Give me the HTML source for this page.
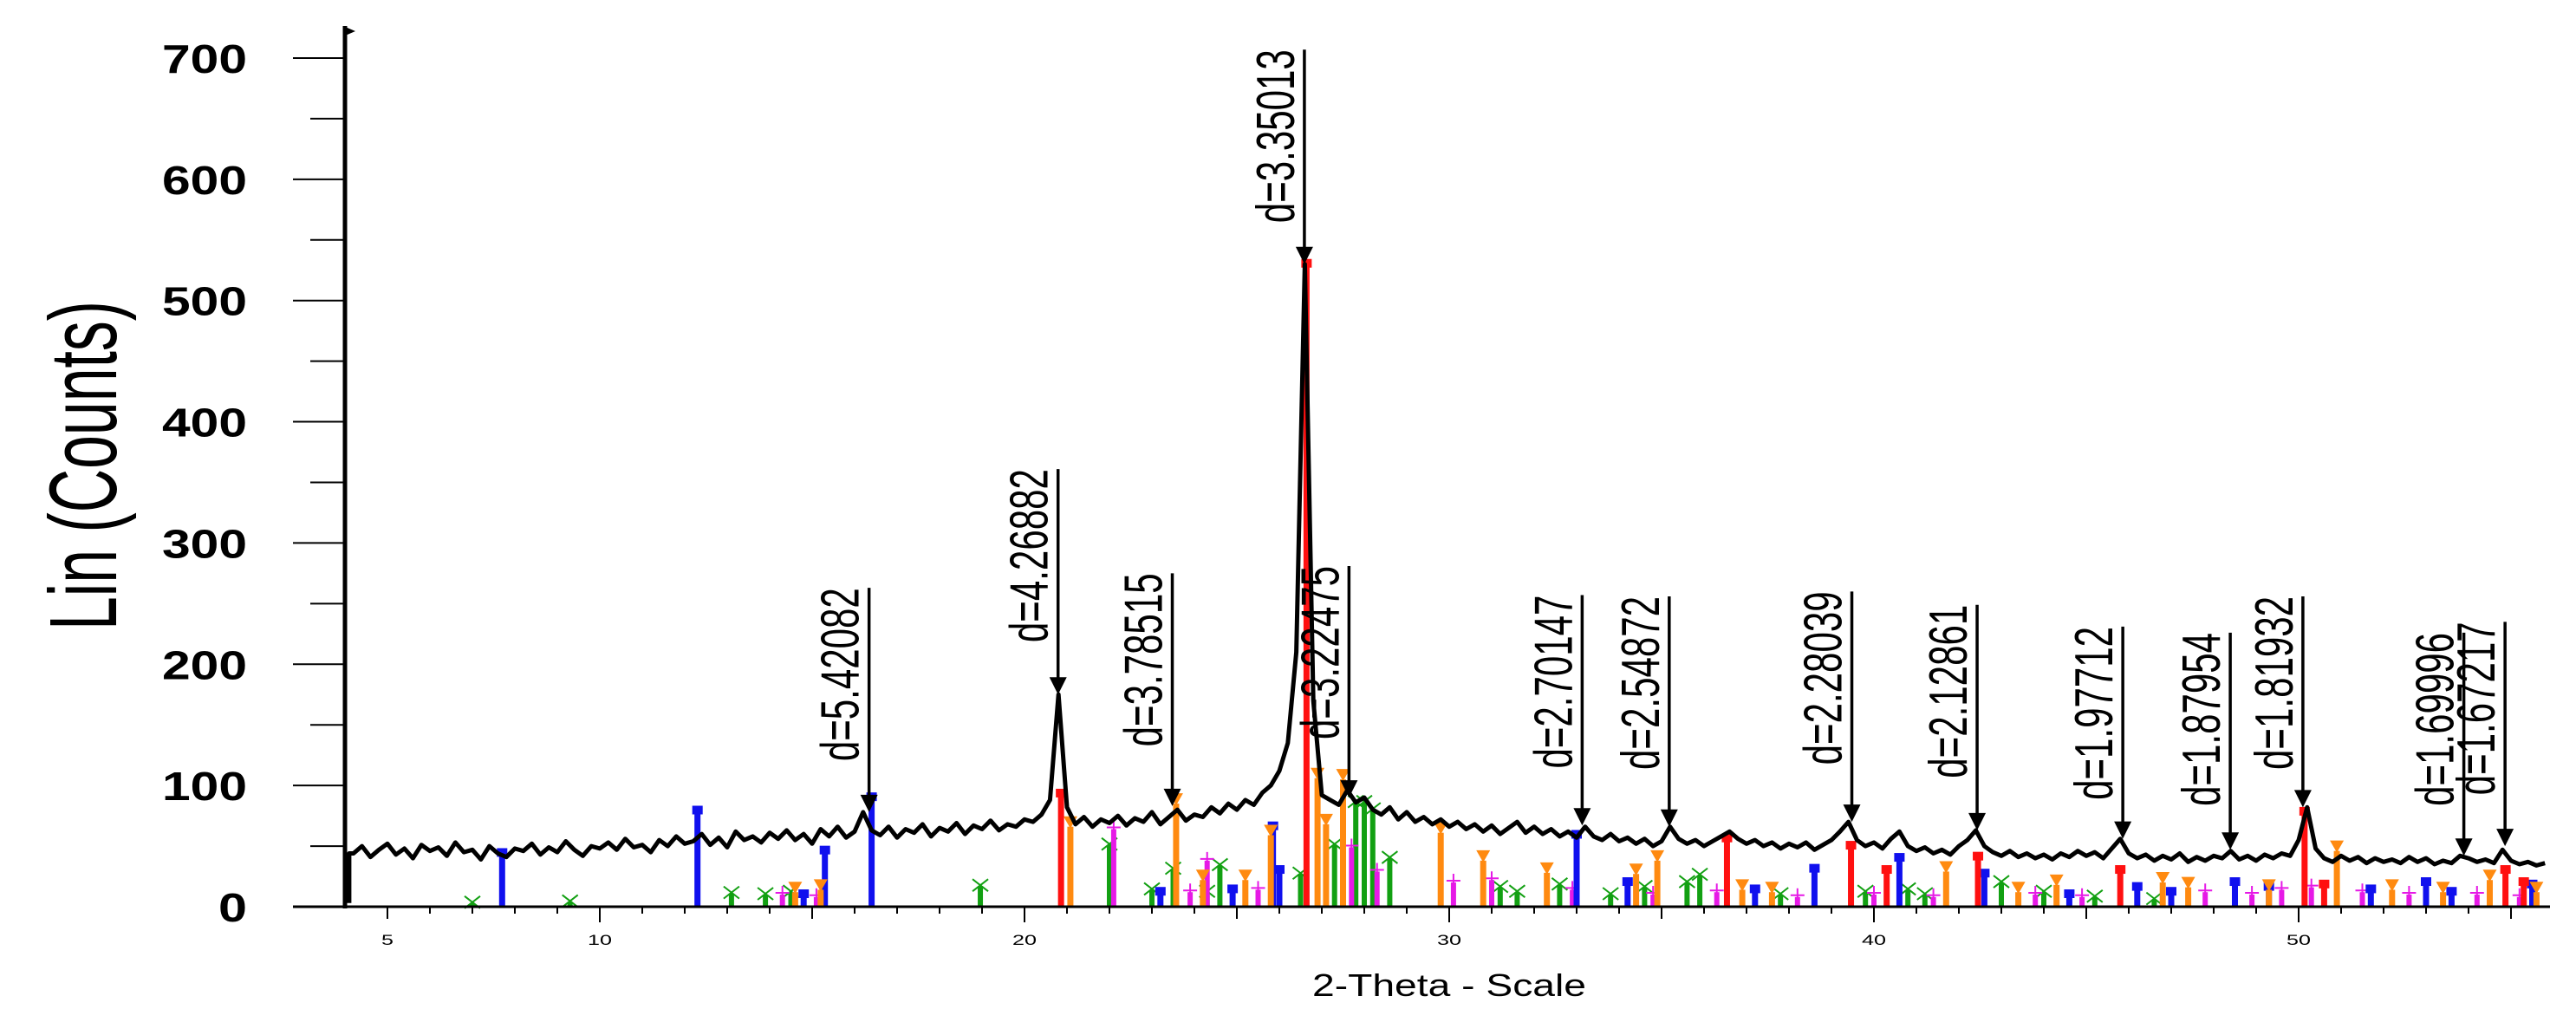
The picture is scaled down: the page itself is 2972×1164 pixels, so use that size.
<!DOCTYPE html>
<html>
<head>
<meta charset="utf-8">
<style>
html,body{margin:0;padding:0;background:#fff;}
svg{display:block;}
text{font-family:"Liberation Sans",Arial,sans-serif;}
</style>
</head>
<body>
<svg id="chart" width="2972" height="1164" viewBox="0 0 2972 1164" xmlns="http://www.w3.org/2000/svg">
  <g id="sticks"></g>
  <g id="trace-g"></g>
  <g id="labels"></g>
  <g id="axes"></g>
</svg>
<script>
// ---- data ----
const traceStart = 4.2;
const traceStep = 0.2;
const traceCounts = [
44,50,41,47,52,43,48,40,51,46,
49,42,53,45,47,39,50,44,41,48,
46,52,43,49,45,54,47,42,50,48,
53,47,56,49,51,45,55,50,58,52,
54,60,51,57,49,62,55,58,53,61,
56,63,55,60,52,64,58,66,57,62,
78,63,59,66,57,64,61,68,58,65,
62,69,60,67,64,71,63,68,66,72,
70,76,88,175,82,68,74,66,72,69,
75,67,73,70,78,68,74,80,71,76,
74,82,77,85,80,88,84,94,100,112,
135,210,530,170,92,88,84,96,86,90,
80,76,82,72,78,70,74,68,72,66,
70,64,68,62,67,60,65,70,61,66,
60,64,58,62,57,66,58,55,60,54,
57,52,56,50,54,66,56,52,55,50,
54,58,62,56,52,55,50,53,48,52,
49,53,47,51,55,62,70,55,50,53,
48,56,62,50,46,49,44,47,43,50,
55,63,50,45,42,46,41,44,40,43,
39,44,41,46,42,45,40,48,56,44,
40,43,38,42,39,44,37,41,38,42,
40,46,39,42,38,43,40,44,42,55,
82,48,40,37,42,38,41,36,40,37,
39,36,41,37,40,35,38,36,42,40,
37,39,36,47,38,35,37,34,36
];
const labelD = ["5.42082","4.26882","3.78515","3.35013","3.22475","2.70147","2.54872","2.28039","2.12861","1.97712","1.87954","1.81932","1.69996","1.67217"];
const labelTheta = [16.34,20.79,23.48,26.59,27.64,33.13,35.18,39.48,42.43,45.86,48.39,50.10,53.89,54.86];
const labelPeak = [78,175,83,530,90,67,66,70,63,56,47,82,42,50];
const labelTop = [263,361,275,707,281,257,256,260,249,231,226,256,226,235];

const redTheta = [20.86,26.64,36.54,39.46,40.30,42.45,45.80,50.14,50.60,54.87,55.30];
const redCounts = [93,530,56,50,30,41,30,78,18,30,20];
const orangeTheta = [14.6,15.2,21.08,23.57,24.2,25.2,25.8,26.9,27.1,27.5,29.8,30.8,32.3,34.4,34.9,36.9,37.6,41.7,43.4,44.3,46.8,47.4,49.3,50.9,52.2,53.4,54.5,55.6];
const orangeCounts = [12,14,66,85,22,22,59,106,68,105,61,38,28,27,38,14,12,29,12,18,20,16,14,46,14,12,22,12];
const blueTheta = [7.7,12.3,14.8,15.3,16.4,23.2,24.9,25.85,26.0,33.0,34.2,37.2,38.6,40.6,42.6,44.6,46.2,47.0,48.5,49.3,51.7,53.0,53.6,55.5];
const blueCounts = [44,79,10,46,90,12,14,66,30,59,20,14,31,40,27,10,16,12,20,16,14,20,12,18];
const greenTheta = [7.0,9.3,13.1,13.9,14.5,18.96,22.0,23.0,23.5,24.3,24.6,26.5,27.3,27.8,28.0,28.2,28.6,31.2,31.6,32.6,33.8,34.6,35.6,35.9,37.8,39.8,40.8,41.2,43.0,44.0,45.2,46.6];
const greenCounts = [3,4,11,10,12,17,51,14,31,12,34,27,51,86,86,80,40,16,12,18,10,16,20,26,10,12,14,10,20,12,8,6];
const magentaTheta = [14.3,15.1,22.1,23.9,24.3,25.5,27.7,28.3,30.1,31.0,32.9,34.8,36.3,38.2,40.0,41.4,43.8,44.9,47.8,48.9,49.6,50.3,51.5,52.6,54.2,55.2];
const magentaCounts = [10,8,64,12,38,14,49,29,20,22,14,10,12,8,10,8,10,8,12,10,14,16,12,10,10,8];

const yTicks = [0,100,200,300,400,500,600,700];
const xTickLabels = [5,10,20,30,40,50];

// ---- scales ----
const X0 = 447, PXDEG = 49, Y0 = 1046, PXC = 1.3986;
function xs(t){ return X0 + (t-5)*PXDEG; }
function ys(c){ return Y0 - c*PXC; }
const NS = "http://www.w3.org/2000/svg";
function mk(tag, attrs, parent){
  const e = document.createElementNS(NS, tag);
  for (const k in attrs) e.setAttribute(k, attrs[k]);
  parent.appendChild(e);
  return e;
}

// ---- sticks ----
const sg = document.getElementById('sticks');
function drawSticks(th, ct, color, w, marker, name){
  for (let i=0;i<th.length;i++){
    const x = xs(th[i]), y = ys(ct[i]);
    const r = mk('rect',{x:x-w/2,y:y,width:w,height:Y0-y,fill:color},sg);
    
    
    let m;
    if (marker==='square'){
      m = mk('rect',{x:x-6,y:y-6,width:12,height:10,fill:color},sg);
    } else if (marker==='tri'){
      m = mk('polygon',{points:(x-8)+','+(y-12)+' '+(x+8)+','+(y-12)+' '+x+','+(y+2),fill:color},sg);
    } else if (marker==='x'){
      m = mk('path',{d:'M'+(x-9)+' '+(y-8)+'L'+(x+9)+' '+(y+6)+'M'+(x-9)+' '+(y+6)+'L'+(x+9)+' '+(y-8),stroke:color,'stroke-width':2,fill:'none'},sg);
    } else {
      m = mk('path',{d:'M'+(x-8)+' '+(y-2)+'L'+(x+8)+' '+(y-2)+'M'+x+' '+(y-10)+'L'+x+' '+(y+6),stroke:color,'stroke-width':2,fill:'none'},sg);
    }
    
    
  }
}
drawSticks(greenTheta, greenCounts, '#12a012', 6, 'x', 'green-phase');
drawSticks(magentaTheta, magentaCounts, '#e619e6', 6, 'plus', 'magenta-phase');
drawSticks(blueTheta, blueCounts, '#1010ee', 7, 'square', 'blue-phase');
drawSticks(orangeTheta, orangeCounts, '#ff8a10', 7, 'tri', 'orange-phase');
drawSticks(redTheta, redCounts, '#ff1010', 7, 'square', 'quartz-phase');

// ---- trace ----
const tg = document.getElementById('trace-g');
let d = 'M'+xs(4.1)+' '+ys(3)+' L'+xs(4.1)+' '+ys(traceCounts[0]);
for (let i=0;i<traceCounts.length;i++){
  d += ' L'+xs(traceStart+i*traceStep).toFixed(1)+' '+ys(traceCounts[i]).toFixed(1);
}
const tp = mk('path',{d:d,fill:'none',stroke:'#000','stroke-width':5,'stroke-linejoin':'round'},tg);



// ---- peak labels ----
const lg = document.getElementById('labels');
for (let i=0;i<labelD.length;i++){
  const x = xs(labelTheta[i]);
  const tip = ys(labelPeak[i]);
  const top = ys(labelTop[i]);
  const ln = mk('line',{x1:x,y1:top,x2:x,y2:tip-16,stroke:'#000','stroke-width':3.5},lg);
  
  
  const ar = mk('polygon',{points:(x-10)+','+(tip-20)+' '+(x+10)+','+(tip-20)+' '+x+','+tip,fill:'#000'},lg);
  
  
  const tx = mk('text',{x:0,y:0,'font-size':62,'text-anchor':'end',textLength:200,lengthAdjust:'spacingAndGlyphs',transform:'translate('+(x-12)+','+top+') rotate(-90)'},lg);
  tx.textContent = 'd='+labelD[i];
  
  
}

// ---- axes ----
const ag = document.getElementById('axes');
let e;
e = mk('line',{x1:398,y1:30,x2:398,y2:Y0+2,stroke:'#000','stroke-width':5},ag);


e = mk('polygon',{points:'396,30 410,36 396,42',fill:'#000'},ag);


e = mk('line',{x1:338,y1:Y0,x2:2942,y2:Y0,stroke:'#000','stroke-width':3},ag);


for (let c=0;c<=700;c+=50){
  const y = ys(c);
  e = mk('line',{x1:(c%100===0?338:358),y1:y,x2:398,y2:y,stroke:'#000','stroke-width':2},ag);
  
  
}
for (const v of yTicks){
  e = mk('text',{x:285,y:ys(v)+17,'font-size':46,'font-weight':'bold','text-anchor':'end',textLength:(v===0?33:98),lengthAdjust:'spacingAndGlyphs'},ag);
  e.textContent = v;
  
  
}
for (let t=5;t<=55;t++){
  const x = xs(t);
  const len = (t%10===0)?18:((t%5===0)?14:8);
  e = mk('line',{x1:x,y1:Y0,x2:x,y2:Y0+len,stroke:'#000','stroke-width':2},ag);
  
  
}
for (const v of xTickLabels){
  e = mk('text',{x:xs(v),y:1090,'font-size':17,'text-anchor':'middle',textLength:(v<10?14:28),lengthAdjust:'spacingAndGlyphs'},ag);
  e.textContent = v;
  
  
}
e = mk('text',{x:1514,y:1149,'font-size':36,textLength:316,lengthAdjust:'spacingAndGlyphs'},ag);
e.textContent = '2-Theta - Scale';


e = mk('text',{x:0,y:0,'font-size':110,'text-anchor':'middle',textLength:380,lengthAdjust:'spacingAndGlyphs',transform:'translate(134,537) rotate(-90)'},ag);
e.textContent = 'Lin (Counts)';


</script>
</body>
</html>
